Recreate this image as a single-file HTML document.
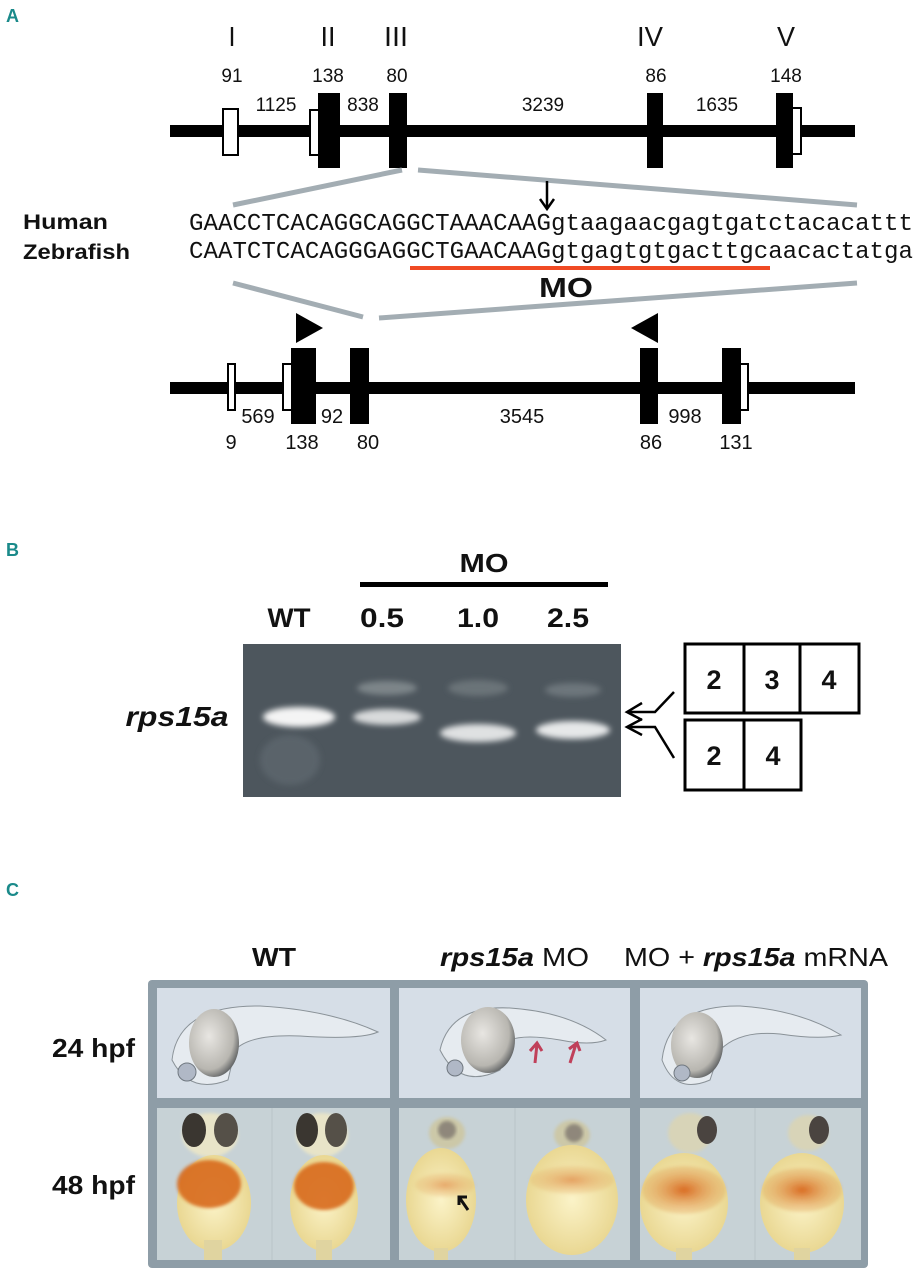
<!DOCTYPE html>
<html><head><meta charset="utf-8"><style>
html,body{margin:0;padding:0;background:#fff}
svg{display:block}
.n{font-family:"Liberation Sans",sans-serif;font-size:19px;fill:#111}
.b{font-family:"Liberation Sans",sans-serif;font-weight:bold;fill:#111}
.m{font-family:"Liberation Mono",monospace;font-size:24.5px;fill:#111}
</style></head><body>
<svg width="919" height="1280" viewBox="0 0 919 1280" xmlns="http://www.w3.org/2000/svg">
<defs>
<radialGradient id="yolk" cx="0.4" cy="0.4" r="0.7"><stop offset="0" stop-color="#e8e6e2"/><stop offset="0.7" stop-color="#b8b6b0"/><stop offset="1" stop-color="#404448"/></radialGradient>
<radialGradient id="body" cx="0.5" cy="0.5" r="0.6"><stop offset="0" stop-color="#fbf3c8"/><stop offset="1" stop-color="#e6d288"/></radialGradient>
<radialGradient id="pig" cx="0.5" cy="0.5" r="0.5"><stop offset="0" stop-color="#d8641a"/><stop offset="1" stop-color="#e0a050" stop-opacity="0.3"/></radialGradient>
<filter id="bl" x="-30%" y="-100%" width="160%" height="300%"><feGaussianBlur stdDeviation="3"/></filter>
<filter id="bl2"><feGaussianBlur stdDeviation="1.5"/></filter>
</defs>
<!-- Panel A -->
<text x="6" y="22" class="b" style="font-size:18px;fill:#1a8a8a">A</text>
<g class="n" text-anchor="middle" style="font-size:28px">
<text x="232" y="46" textLength="7" lengthAdjust="spacingAndGlyphs">I</text><text x="328" y="46" textLength="15" lengthAdjust="spacingAndGlyphs">II</text><text x="396" y="46" textLength="24" lengthAdjust="spacingAndGlyphs">III</text><text x="650" y="46" textLength="26" lengthAdjust="spacingAndGlyphs">IV</text><text x="786" y="46" textLength="18" lengthAdjust="spacingAndGlyphs">V</text>
</g>
<g class="n" text-anchor="middle">
<text x="232" y="82">91</text><text x="328" y="82">138</text><text x="397" y="82">80</text><text x="656" y="82">86</text><text x="786" y="82">148</text>
<text x="276" y="111">1125</text><text x="363" y="111">838</text><text x="543" y="111">3239</text><text x="717" y="111">1635</text>
</g>
<rect x="170" y="125" width="685" height="12" fill="#000"/>
<rect x="223" y="109" width="15" height="46" fill="#fff" stroke="#000" stroke-width="2"/>
<rect x="310" y="110" width="12" height="45" fill="#fff" stroke="#000" stroke-width="2"/>
<rect x="318" y="93" width="22" height="75" fill="#000"/>
<rect x="389" y="93" width="18" height="75" fill="#000"/>
<rect x="647" y="93" width="16" height="75" fill="#000"/>
<rect x="776" y="93" width="17" height="75" fill="#000"/>
<rect x="792" y="108" width="9" height="46" fill="#fff" stroke="#000" stroke-width="2"/>
<g stroke="#a3adb3" stroke-width="5">
<line x1="402" y1="170" x2="233" y2="205"/><line x1="418" y1="170" x2="857" y2="205"/>
<line x1="233" y1="283" x2="363" y2="317"/><line x1="379" y1="318" x2="857" y2="283"/>
</g>
<text x="23" y="229" class="b" style="font-size:21px" textLength="85" lengthAdjust="spacingAndGlyphs">Human</text>
<text x="23" y="259" class="b" style="font-size:21px" textLength="107" lengthAdjust="spacingAndGlyphs">Zebrafish</text>
<text x="189" y="230" class="m" textLength="724" lengthAdjust="spacingAndGlyphs">GAACCTCACAGGCAGGCTAAACAAGgtaagaacgagtgatctacacattt</text>
<text x="189" y="258" class="m" textLength="724" lengthAdjust="spacingAndGlyphs">CAATCTCACAGGGAGGCTGAACAAGgtgagtgtgacttgcaacactatga</text>
<line x1="547" y1="181" x2="547" y2="208" stroke="#000" stroke-width="2.5"/>
<path d="M540 199 L547 209 L554 199" fill="none" stroke="#000" stroke-width="2.5"/>
<rect x="410" y="266" width="360" height="4" fill="#f04a24"/>
<text x="566" y="297" class="b" text-anchor="middle" style="font-size:28px" textLength="54" lengthAdjust="spacingAndGlyphs">MO</text>
<polygon points="296,313 323,328 296,343" fill="#000"/>
<polygon points="658,313 631,328 658,343" fill="#000"/>
<rect x="170" y="382" width="685" height="12" fill="#000"/>
<rect x="228" y="364" width="7" height="46" fill="#fff" stroke="#000" stroke-width="2"/>
<rect x="283" y="364" width="10" height="46" fill="#fff" stroke="#000" stroke-width="2"/>
<rect x="291" y="348" width="25" height="76" fill="#000"/>
<rect x="350" y="348" width="19" height="76" fill="#000"/>
<rect x="640" y="348" width="18" height="76" fill="#000"/>
<rect x="722" y="348" width="19" height="76" fill="#000"/>
<rect x="740" y="364" width="8" height="46" fill="#fff" stroke="#000" stroke-width="2"/>
<g class="n" text-anchor="middle" style="font-size:20px">
<text x="258" y="423">569</text><text x="332" y="423">92</text><text x="522" y="423">3545</text><text x="685" y="423">998</text>
<text x="231" y="449">9</text><text x="302" y="449">138</text><text x="368" y="449">80</text><text x="651" y="449">86</text><text x="736" y="449">131</text>
</g>
<!-- Panel B -->
<text x="6" y="556" class="b" style="font-size:18px;fill:#1a8a8a">B</text>
<text x="484" y="572" class="b" text-anchor="middle" style="font-size:26px" textLength="49" lengthAdjust="spacingAndGlyphs">MO</text>
<rect x="360" y="582" width="248" height="5" fill="#000"/>
<g class="b" text-anchor="middle" style="font-size:27px">
<text x="289" y="627" textLength="43" lengthAdjust="spacingAndGlyphs">WT</text><text x="382" y="627" textLength="44" lengthAdjust="spacingAndGlyphs">0.5</text><text x="478" y="627" textLength="42" lengthAdjust="spacingAndGlyphs">1.0</text><text x="568" y="627" textLength="42" lengthAdjust="spacingAndGlyphs">2.5</text>
</g>
<rect x="243" y="644" width="378" height="153" fill="#4d565d"/>
<ellipse cx="290" cy="760" rx="30" ry="25" fill="#5a636a" filter="url(#bl)"/>
<ellipse cx="299" cy="717" rx="36" ry="10" fill="#f4f4f4" filter="url(#bl)"/>
<ellipse cx="387" cy="717" rx="34" ry="8" fill="#d8dadb" filter="url(#bl)"/>
<ellipse cx="387" cy="688" rx="30" ry="7" fill="#7d8589" filter="url(#bl)"/>
<ellipse cx="478" cy="733" rx="38" ry="9" fill="#dfe1e2" filter="url(#bl)"/>
<ellipse cx="478" cy="688" rx="30" ry="8" fill="#6a7378" filter="url(#bl)"/>
<ellipse cx="573" cy="730" rx="37" ry="9" fill="#e6e8e9" filter="url(#bl)"/>
<ellipse cx="573" cy="690" rx="28" ry="7" fill="#6d767b" filter="url(#bl)"/>
<text x="177" y="726" class="b" text-anchor="middle" style="font-size:28px;font-style:italic" textLength="103" lengthAdjust="spacingAndGlyphs">rps15a</text>
<g fill="none" stroke="#000" stroke-width="2.5">
<path d="M642 703 L627 712 L642 720"/><path d="M642 719 L627 727 L642 735"/>
<path d="M627 712 L655 712 L674 692"/><path d="M627 727 L655 727 L674 758"/>
</g>
<g fill="none" stroke="#000" stroke-width="3">
<rect x="685" y="644" width="174" height="69"/><line x1="744" y1="644" x2="744" y2="713"/><line x1="800" y1="644" x2="800" y2="713"/>
<rect x="685" y="720" width="116" height="70"/><line x1="744" y1="720" x2="744" y2="790"/>
</g>
<g class="b" text-anchor="middle" style="font-size:27px">
<text x="714" y="689" textLength="15" lengthAdjust="spacingAndGlyphs">2</text><text x="772" y="689" textLength="15" lengthAdjust="spacingAndGlyphs">3</text><text x="829" y="689" textLength="15" lengthAdjust="spacingAndGlyphs">4</text>
<text x="714" y="765" textLength="15" lengthAdjust="spacingAndGlyphs">2</text><text x="773" y="765" textLength="15" lengthAdjust="spacingAndGlyphs">4</text>
</g>
<!-- Panel C -->
<text x="6" y="896" class="b" style="font-size:18px;fill:#1a8a8a">C</text>
<g class="b" style="font-size:26px">
<text x="252" y="966" textLength="44" lengthAdjust="spacingAndGlyphs">WT</text>
<text x="440" y="966" textLength="149" lengthAdjust="spacingAndGlyphs"><tspan font-style="italic">rps15a</tspan><tspan font-weight="normal"> MO</tspan></text>
<text x="624" y="966" textLength="264" lengthAdjust="spacingAndGlyphs"><tspan font-weight="normal">MO + </tspan><tspan font-style="italic">rps15a</tspan><tspan font-weight="normal"> mRNA</tspan></text>
</g>
<text x="52" y="1057" class="b" style="font-size:26px" textLength="83" lengthAdjust="spacingAndGlyphs">24 hpf</text>
<text x="52" y="1194" class="b" style="font-size:26px" textLength="83" lengthAdjust="spacingAndGlyphs">48 hpf</text>
<rect x="148" y="980" width="720" height="288" rx="4" fill="#8e9da7"/>
<g fill="#d6dee7">
<rect x="157" y="988" width="233" height="110"/><rect x="399" y="988" width="231" height="110"/><rect x="640" y="988" width="221" height="110"/>
</g>
<g fill="#c7d2d6">
<rect x="157" y="1108" width="233" height="152"/><rect x="399" y="1108" width="231" height="152"/><rect x="640" y="1108" width="221" height="152"/>
</g>
<g stroke="#b8c4c8" stroke-width="1"><line x1="272" y1="1108" x2="272" y2="1260"/><line x1="515" y1="1108" x2="515" y2="1260"/><line x1="755" y1="1108" x2="755" y2="1260"/></g>
<!-- 24hpf -->
<g>
<path d="M172 1060 Q178 1005 260 1006 Q330 1010 378 1032 Q360 1040 300 1036 Q250 1034 235 1050 L228 1080 Q190 1095 172 1060 Z" fill="#e6ebf0" stroke="#8a9298" stroke-width="1"/>
<ellipse cx="214" cy="1043" rx="25" ry="34" fill="url(#yolk)"/>
<circle cx="187" cy="1072" r="9" fill="#b0b8c6" stroke="#707880"/>
<path d="M440 1050 Q450 1005 510 1008 Q570 1012 606 1040 Q590 1046 560 1040 Q525 1034 510 1040 L500 1070 Q460 1090 440 1050 Z" fill="#e6ebf0" stroke="#8a9298" stroke-width="1"/>
<ellipse cx="488" cy="1040" rx="27" ry="33" fill="url(#yolk)"/>
<circle cx="455" cy="1068" r="8" fill="#b0b8c6" stroke="#707880"/>
<path d="M535 1063 L537 1044 M530 1051 L537 1043 L542 1051 M570 1063 L576 1044 M569 1049 L577 1043 L580 1051" stroke="#c0405a" stroke-width="3" fill="none"/>
<path d="M662 1060 Q668 1005 740 1006 Q800 1010 841 1035 Q820 1040 780 1034 Q740 1030 720 1050 L710 1080 Q675 1095 662 1060 Z" fill="#e6ebf0" stroke="#8a9298" stroke-width="1"/>
<ellipse cx="697" cy="1045" rx="26" ry="33" fill="url(#yolk)"/>
<circle cx="682" cy="1073" r="8" fill="#b0b8c6" stroke="#707880"/>
</g>
<!-- 48hpf -->
<g>
<ellipse cx="210" cy="1135" rx="28" ry="22" fill="#e8e4c8" filter="url(#bl2)"/><ellipse cx="194" cy="1130" rx="12" ry="17" fill="#3a3630"/><ellipse cx="226" cy="1130" rx="12" ry="17" fill="#555048"/>
<ellipse cx="214" cy="1203" rx="37" ry="48" fill="url(#body)"/><ellipse cx="209" cy="1184" rx="32" ry="24" fill="#d86a1a" opacity="0.9" filter="url(#bl2)"/>
<rect x="204" y="1240" width="18" height="20" fill="#e0d4a0"/>
<ellipse cx="322" cy="1135" rx="26" ry="22" fill="#e8e4c8" filter="url(#bl2)"/><ellipse cx="307" cy="1130" rx="11" ry="17" fill="#3a3630"/><ellipse cx="336" cy="1130" rx="11" ry="17" fill="#555048"/>
<ellipse cx="324" cy="1203" rx="34" ry="48" fill="url(#body)"/><ellipse cx="324" cy="1186" rx="30" ry="24" fill="#d86a1a" opacity="0.9" filter="url(#bl2)"/>
<rect x="316" y="1240" width="16" height="20" fill="#e0d4a0"/>
<ellipse cx="447" cy="1133" rx="18" ry="16" fill="#ccc8a8" filter="url(#bl2)"/><circle cx="447" cy="1130" r="9" fill="#807870" opacity="0.8" filter="url(#bl2)"/>
<ellipse cx="441" cy="1200" rx="35" ry="52" fill="url(#body)"/><ellipse cx="445" cy="1185" rx="30" ry="12" fill="url(#pig)" opacity="0.5" filter="url(#bl2)"/>
<path d="M468 1210 L459 1197 M459 1205 L459 1197 L467 1197" stroke="#111" stroke-width="3" fill="none"/>
<rect x="434" y="1248" width="14" height="12" fill="#e0d4a0"/>
<ellipse cx="572" cy="1135" rx="18" ry="15" fill="#ccc8a8" filter="url(#bl2)"/><circle cx="574" cy="1133" r="9" fill="#807870" opacity="0.8" filter="url(#bl2)"/>
<ellipse cx="572" cy="1200" rx="46" ry="55" fill="url(#body)"/><ellipse cx="572" cy="1180" rx="42" ry="14" fill="url(#pig)" opacity="0.55" filter="url(#bl2)"/>
<ellipse cx="690" cy="1133" rx="22" ry="20" fill="#d8d4b8" filter="url(#bl2)"/><ellipse cx="707" cy="1130" rx="10" ry="14" fill="#4a4440"/>
<ellipse cx="684" cy="1203" rx="44" ry="50" fill="url(#body)"/><ellipse cx="684" cy="1190" rx="42" ry="24" fill="url(#pig)" opacity="0.95" filter="url(#bl2)"/>
<rect x="676" y="1248" width="16" height="12" fill="#e0d4a0"/>
<ellipse cx="808" cy="1133" rx="20" ry="18" fill="#d8d4b8" filter="url(#bl2)"/><ellipse cx="819" cy="1130" rx="10" ry="14" fill="#4a4440"/>
<ellipse cx="802" cy="1203" rx="42" ry="50" fill="url(#body)"/><ellipse cx="802" cy="1190" rx="40" ry="22" fill="url(#pig)" opacity="0.95" filter="url(#bl2)"/>
<rect x="794" y="1248" width="16" height="12" fill="#e0d4a0"/>
</g>
</svg>
</body></html>
